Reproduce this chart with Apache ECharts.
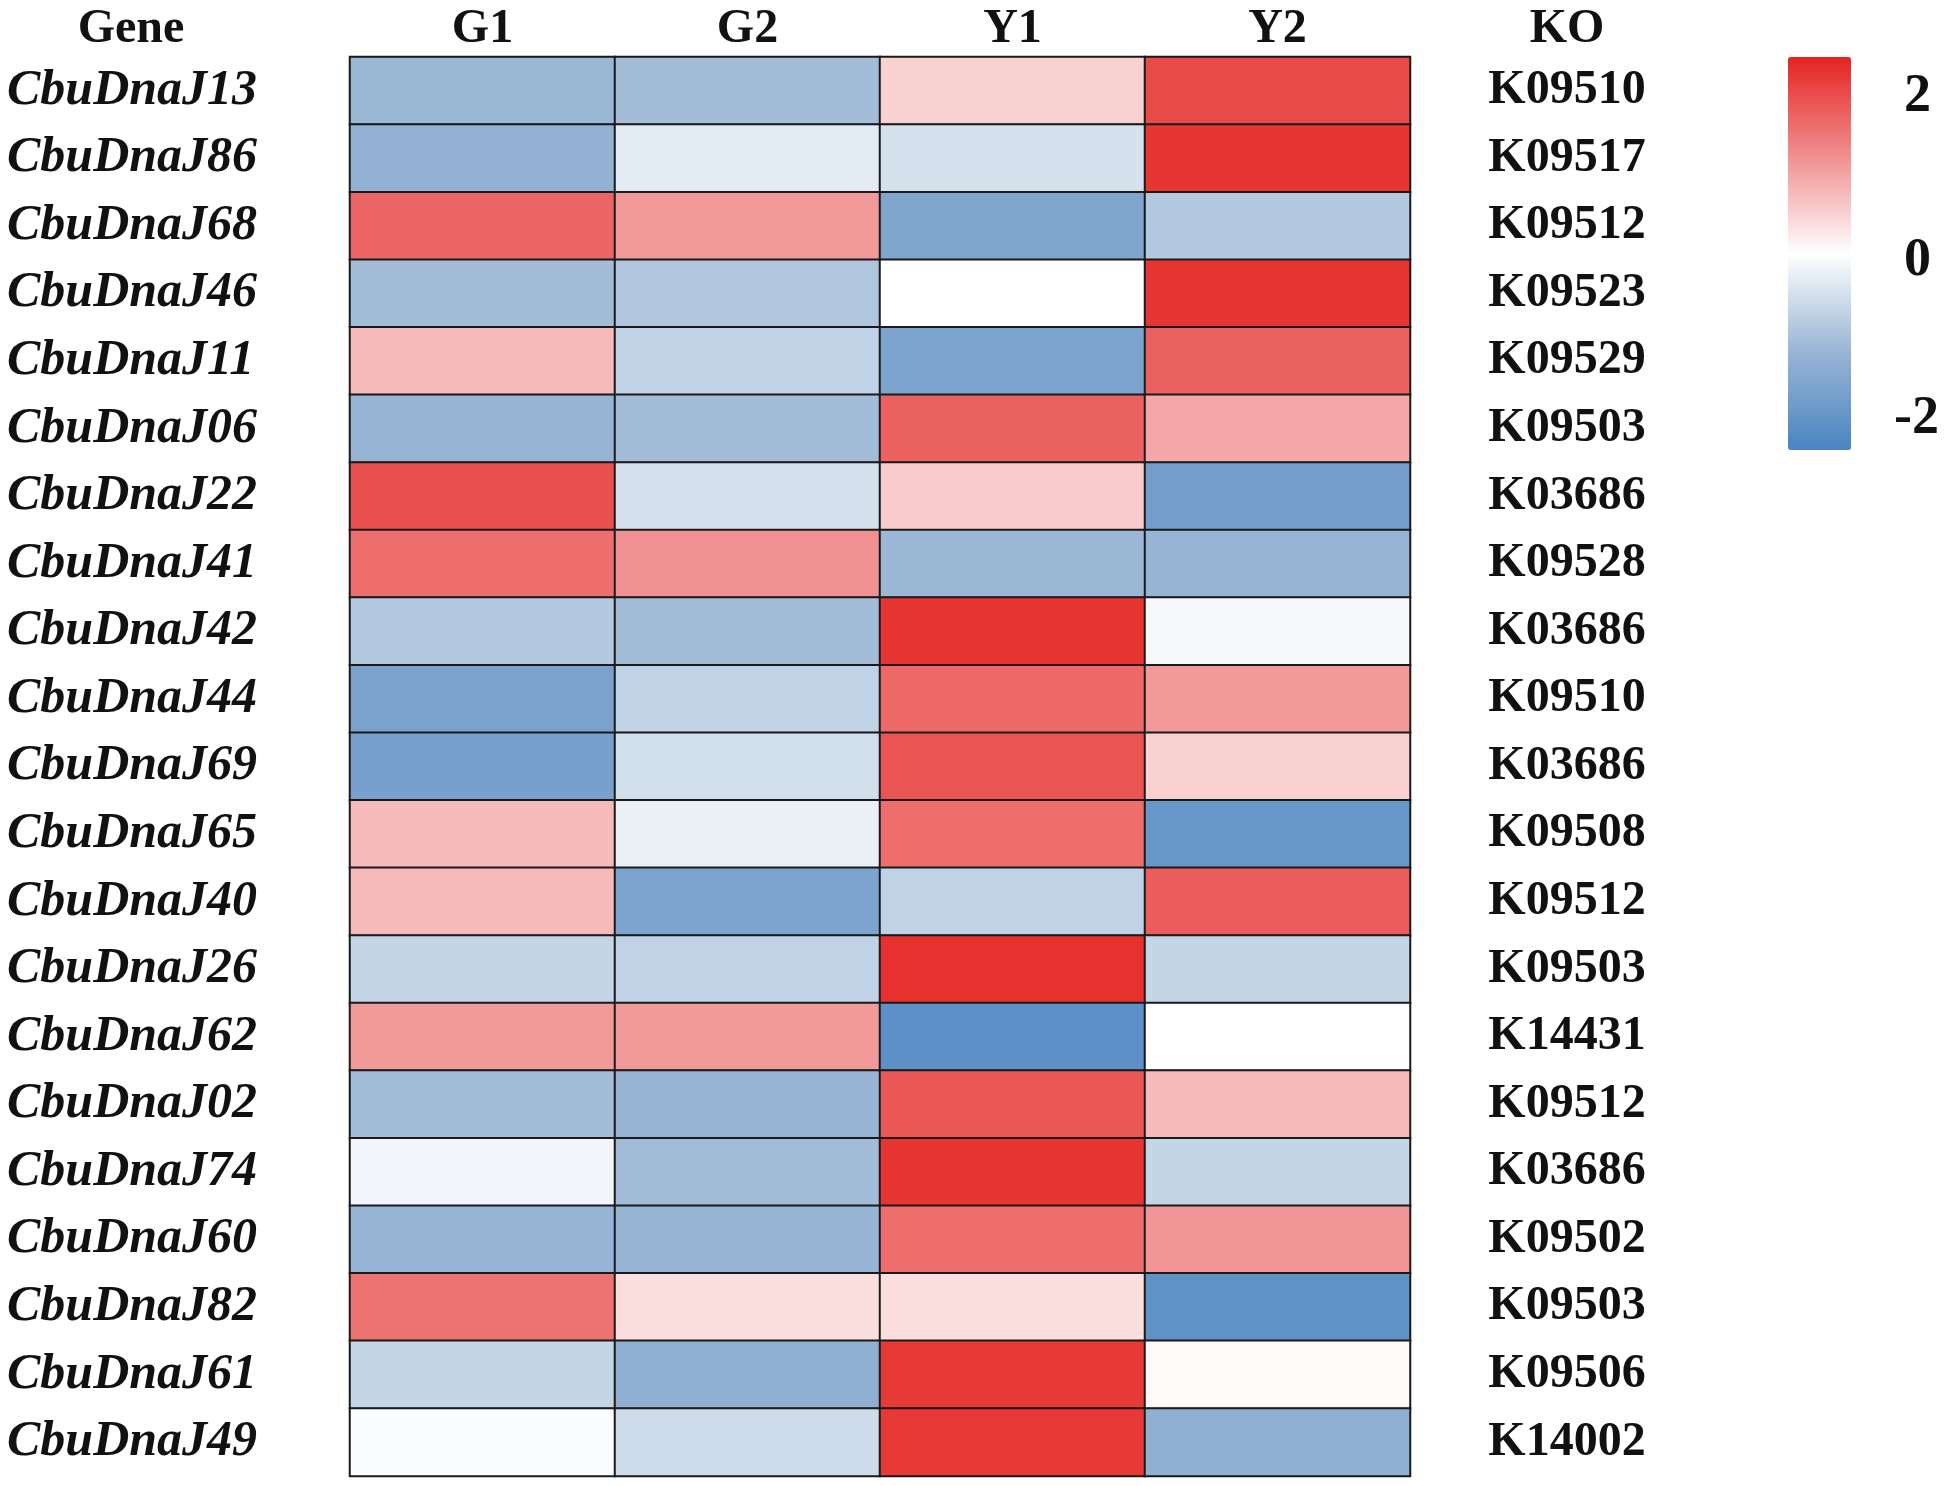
<!DOCTYPE html>
<html>
<head>
<meta charset="utf-8">
<script src="https://cdn.jsdelivr.net/npm/echarts@6/dist/echarts.min.js"></script>
<style>
  html, body { margin: 0; padding: 0; background: #fff; }
  #main { width: 1949px; height: 1486px; }
</style>
</head>
<body>
<div id="main"></div>
<script>
// samples (columns) and genes (rows, top to bottom)
var samples = ['G1', 'G2', 'Y1', 'Y2'];
var genes = ['CbuDnaJ13', 'CbuDnaJ86', 'CbuDnaJ68', 'CbuDnaJ46', 'CbuDnaJ11', 'CbuDnaJ06', 'CbuDnaJ22',
             'CbuDnaJ41', 'CbuDnaJ42', 'CbuDnaJ44', 'CbuDnaJ69', 'CbuDnaJ65', 'CbuDnaJ40', 'CbuDnaJ26',
             'CbuDnaJ62', 'CbuDnaJ02', 'CbuDnaJ74', 'CbuDnaJ60', 'CbuDnaJ82', 'CbuDnaJ61', 'CbuDnaJ49'];
var koIds = ['K09510', 'K09517', 'K09512', 'K09523', 'K09529', 'K09503', 'K03686',
             'K09528', 'K03686', 'K09510', 'K03686', 'K09508', 'K09512', 'K09503',
             'K14431', 'K09512', 'K03686', 'K09502', 'K09503', 'K09506', 'K14002'];

// z-scores per sample, same order as genes
var valG1 = [-1.2, -1.3, 1.7, -1.1, 0.75, -1.25, 1.95, 1.6, -0.9, -1.7, -1.75,
             0.75, 0.75, -0.7, 1.1, -1.1, -0.15, -1.25, 1.55, -0.7, -0.05];
var valG2 = [-1.1, -0.35, 1.1, -0.95, -0.75, -1.1, -0.5, 1.2, -1.1, -0.75, -0.55,
             -0.25, -1.65, -0.75, 1.1, -1.25, -1.1, -1.25, 0.35, -1.35, -0.6];
var valY1 = [0.5, -0.5, -1.6, 0.0, -1.65, 1.75, 0.55, -1.2, 2.25, 1.65, 1.9,
             1.6, -0.75, 2.3, -2.15, 1.85, 2.25, 1.6, 0.35, 2.2, 2.2];
var valY2 = [2.0, 2.25, -0.9, 2.25, 1.75, 0.95, -1.8, -1.25, -0.1, 1.1, 0.5,
             -2.0, 1.8, -0.7, 0.0, 0.75, -0.7, 1.15, -2.1, 0.05, -1.35];

var legendTicks = ['2', '0', '-2'];

var columns = [valG1, valG2, valY1, valY2];
var cells = [];
columns.forEach(function (col, i) {
    col.forEach(function (v, j) {
        cells.push([i, j, v]);
    });
});

var serif = '"Liberation Serif", "DejaVu Serif", serif';

var myChart = echarts.init(document.getElementById('main'));

var option = {
    backgroundColor: '#ffffff',
    animation: false,

    grid: {
        left: 350,
        right: 539,
        top: 57,
        bottom: 10
    },

    xAxis: {
        type: 'category',
        position: 'top',
        data: samples,
        axisLine: { show: false },
        axisTick: { show: false },
        splitLine: { show: false },
        axisLabel: {
            margin: 3,
            color: '#111',
            fontFamily: serif,
            fontWeight: 'bold',
            fontSize: 48
        }
    },

    yAxis: [{
        type: 'category',
        inverse: true,
        data: genes,
        name: 'Gene',
        nameLocation: 'start',
        nameGap: 3,
        nameTextStyle: {
            color: '#111',
            fontFamily: serif,
            fontWeight: 'bold',
            fontSize: 48,
            align: 'center',
            padding: [0, 0, 0, -438]
        },
        axisLine: { show: false },
        axisTick: { show: false },
        axisLabel: {
            margin: 343,
            align: 'left',
            color: '#111',
            fontFamily: serif,
            fontStyle: 'italic',
            fontWeight: 'bold',
            fontSize: 50
        }
    }, {
        type: 'category',
        inverse: true,
        position: 'right',
        data: koIds,
        name: 'KO',
        nameLocation: 'start',
        nameGap: 3,
        nameTextStyle: {
            color: '#111',
            fontFamily: serif,
            fontWeight: 'bold',
            fontSize: 48,
            align: 'center',
            padding: [0, 0, 0, 314]
        },
        axisLine: { show: false },
        axisTick: { show: false },
        axisLabel: {
            margin: 157,
            align: 'center',
            color: '#111',
            fontFamily: serif,
            fontWeight: 'bold',
            fontSize: 48
        }
    }],

    visualMap: {
        type: 'continuous',
        min: -2.45,
        max: 2.45,
        calculable: false,
        orient: 'vertical',
        left: 1788,
        top: 57,
        padding: 0,
        itemWidth: 63,
        itemHeight: 393,
        text: null,
        showLabel: false,
        inRange: {
            color: ['#4a84c2', '#98b5d4', '#ffffff', '#f08e8f', '#e52420']
        }
    },

    graphic: [
        { type: 'text', left: 1904, top: 70, style: { text: legendTicks[0], font: 'bold 54px ' + serif, fill: '#111' } },
        { type: 'text', left: 1904, top: 234, style: { text: legendTicks[1], font: 'bold 54px ' + serif, fill: '#111' } },
        { type: 'text', left: 1894, top: 392, style: { text: legendTicks[2], font: 'bold 54px ' + serif, fill: '#111' } }
    ],

    series: [{
        type: 'heatmap',
        data: cells,
        itemStyle: {
            borderColor: '#1a1a1a',
            borderWidth: 2
        },
        emphasis: { disabled: true }
    }]
};

myChart.setOption(option);
</script>
</body>
</html>
